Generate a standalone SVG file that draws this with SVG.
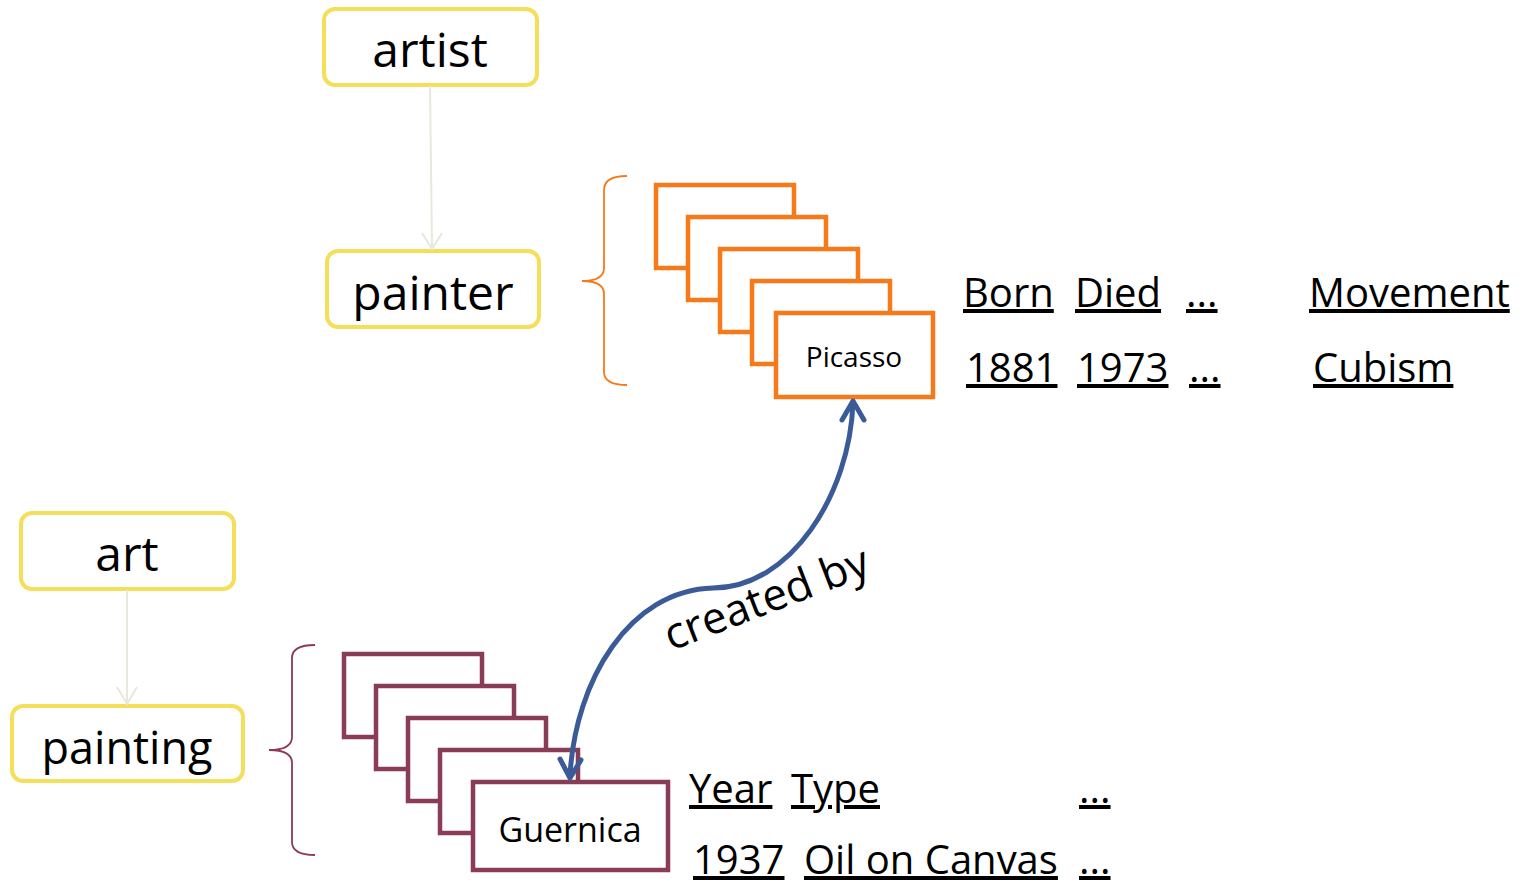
<svg xmlns="http://www.w3.org/2000/svg" width="1531" height="883" viewBox="0 0 1531 883">
  <style>
    text { font-family: "Open Sans", "Noto Sans", "DejaVu Sans", sans-serif; fill: #000; }
    .cls { fill: #fff; stroke: #F5DF5A; stroke-width: 4; }
    .cls-t { font-size: 48px; text-anchor: middle; }
    .inst-o { fill: #fff; stroke: #F77A1A; stroke-width: 4.5; }
    .inst-m { fill: #fff; stroke: #8A3B56; stroke-width: 4.5; }
    .brace-o { fill: none; stroke: #F77A1A; stroke-width: 1.8; }
    .brace-m { fill: none; stroke: #8A3B56; stroke-width: 1.8; }
    .sub { fill: none; stroke: #EAE8DC; stroke-width: 2; }
    .rel { fill: none; stroke: #3B5B98; stroke-width: 5; stroke-linecap: round; stroke-linejoin: round; }
    .prop { font-size: 40px; text-decoration: underline; }
  </style>

  <!-- class hierarchy -->
  <g id="artist">
    <rect class="cls" x="324" y="9" width="213" height="76" rx="11"/>
    <text class="cls-t" x="430" y="67">artist</text>
  </g>
  <g id="painter">
    <rect class="cls" x="327" y="251" width="212" height="76" rx="11"/>
    <text class="cls-t" x="433" y="310">painter</text>
  </g>
  <g id="art">
    <rect class="cls" x="21" y="513" width="213" height="76" rx="11"/>
    <text class="cls-t" x="127" y="571">art</text>
  </g>
  <g id="painting">
    <rect class="cls" x="12" y="706" width="231" height="75" rx="11"/>
    <text class="cls-t" x="127" y="764" style="font-size:45px">painting</text>
  </g>

  <!-- painter instances -->
  <g id="painter-instances">
    <path class="brace-o" d="M627 176 Q604 176 604 190 L604 268 Q604 281 582 281 Q604 281 604 294 L604 372 Q604 385 627 385"/>
    <rect class="inst-o" x="656" y="185" width="138" height="83"/>
    <rect class="inst-o" x="688" y="217" width="138" height="83"/>
    <rect class="inst-o" x="720" y="249" width="138" height="83"/>
    <rect class="inst-o" x="752" y="281" width="138" height="83"/>
  </g>
  <g id="picasso">
    <rect class="inst-o" x="776" y="313" width="157" height="84"/>
    <text x="854" y="367" style="font-size:28px" text-anchor="middle">Picasso</text>
  </g>

  <!-- painting instances -->
  <g id="painting-instances">
    <path class="brace-m" d="M315 645 Q292 645 292 658 L292 737 Q292 750 269 750 Q292 750 292 763 L292 842 Q292 855 315 855"/>
    <rect class="inst-m" x="344" y="654" width="138" height="83"/>
    <rect class="inst-m" x="376" y="686" width="138" height="83"/>
    <rect class="inst-m" x="408" y="718" width="138" height="83"/>
    <rect class="inst-m" x="440" y="750" width="138" height="83"/>
  </g>
  <g id="guernica">
    <rect class="inst-m" x="473" y="782" width="195" height="88"/>
    <text x="570" y="842" style="font-size:34px" text-anchor="middle">Guernica</text>
  </g>

  <!-- connectors -->
  <g id="connectors">
    <path class="sub" d="M430 86 L432 248"/>
    <path class="sub" d="M422 233 L432 249 L442 233"/>
    <path class="sub" d="M127 590 L127 703"/>
    <path class="sub" d="M117 687 L127 704 L137 687"/>
    <path class="rel" d="M853 402 C850 495 790 588 713 588 C630 590 575 680 570 776"/>
    <path class="rel" d="M842 420 L853 401 L864 420"/>
    <path class="rel" d="M560 759 L570 778 L581 760"/>
    <text x="671" y="651" transform="rotate(-21 671 651)" style="font-size:44px">created by</text>
  </g>

  <!-- painter attributes -->
  <g id="painter-attributes">
    <text class="prop" x="963" y="307">Born</text>
    <text class="prop" x="1075" y="307">Died</text>
    <text class="prop" x="1186" y="307">...</text>
    <text class="prop" x="1309" y="307">Movement</text>
    <text class="prop" x="966" y="382">1881</text>
    <text class="prop" x="1077" y="382">1973</text>
    <text class="prop" x="1189" y="382">...</text>
    <text class="prop" x="1313" y="382">Cubism</text>
  </g>

  <!-- painting attributes -->
  <g id="painting-attributes">
    <text class="prop" x="689" y="803">Year</text>
    <text class="prop" x="791" y="803">Type</text>
    <text class="prop" x="1079" y="803">...</text>
    <text class="prop" x="693" y="874">1937</text>
    <text class="prop" x="804" y="874">Oil on Canvas</text>
    <text class="prop" x="1079" y="874">...</text>
  </g>
</svg>
